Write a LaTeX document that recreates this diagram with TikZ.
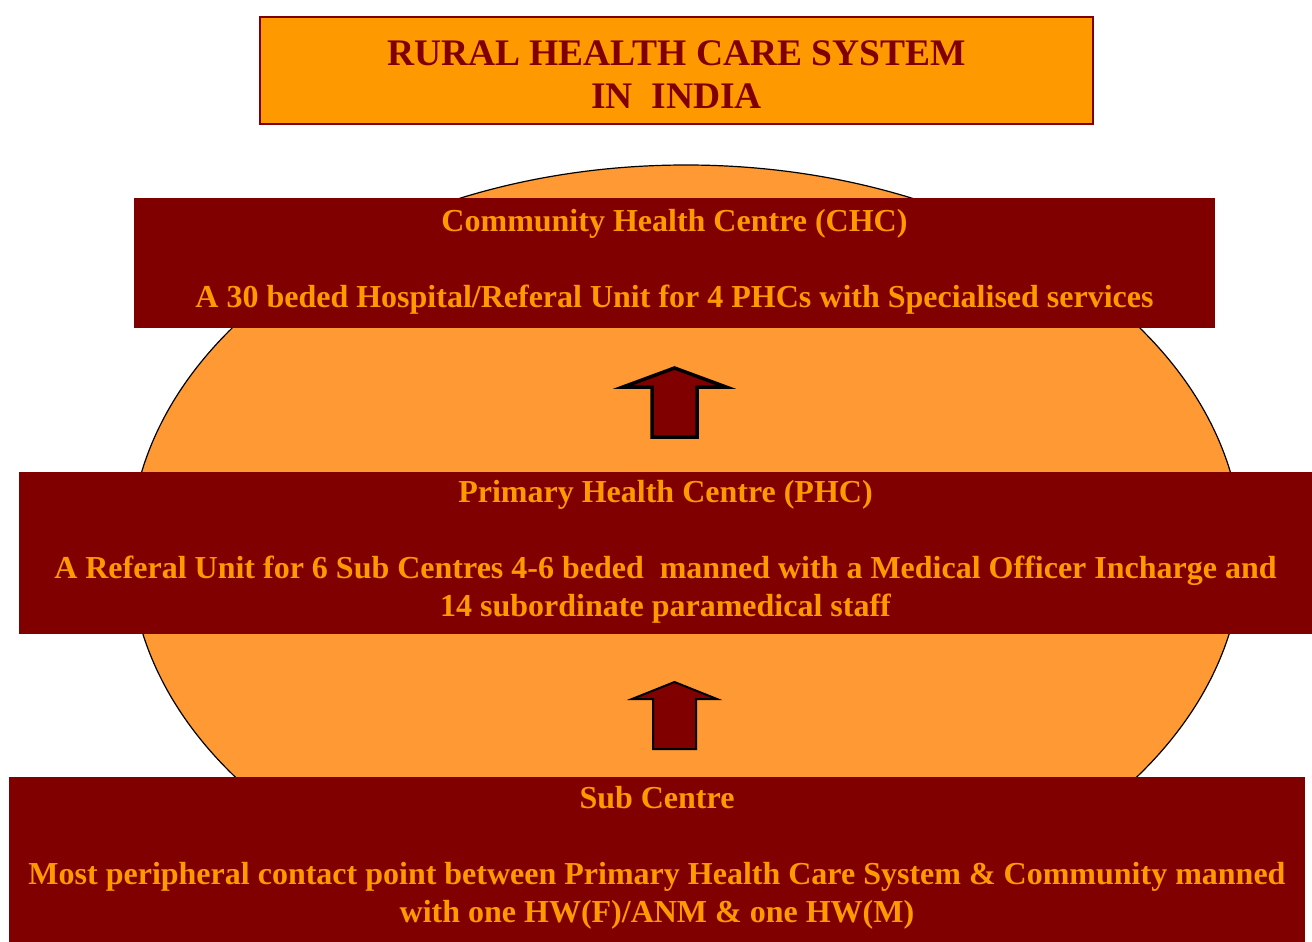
\documentclass[tikz,border=0pt]{standalone}
\usepackage{fontspec}
\setmainfont{Liberation Serif}
\usetikzlibrary{shapes.geometric, positioning}
\definecolor{maroon}{HTML}{800000}
\definecolor{gold}{HTML}{FF9900}
\definecolor{peach}{HTML}{FF9933}
\tikzstyle{titlebox} = [rectangle, draw=maroon, line width=1.5pt, fill=gold, text=maroon, font=\fontsize{37.5}{43}\selectfont\bfseries, align=center, minimum width=833pt, minimum height=107pt]
\tikzstyle{level} = [rectangle, fill=maroon, text=gold, font=\fontsize{32}{38}\selectfont\bfseries, align=center, inner sep=0pt]
\tikzstyle{oval} = [ellipse, draw=black, line width=1.2pt, fill=peach, inner sep=0pt]
\tikzstyle{uparrow} = [draw=black, fill=maroon, line join=miter]
\newcommand{\liftup}{\\[-28pt]\mbox{}}
\newcommand{\dropdown}{\mbox{}\\[-10pt]}

\begin{document}
\begin{tikzpicture}[x=1pt, y=-1pt]
				\useasboundingbox (0,0) rectangle (1312,942);
				\node(title) [titlebox] at (676.5,70.5) {\dropdown RURAL HEALTH CARE SYSTEM\\IN\ \ INDIA};
				%----------------------------------------------------%
				\node(ring) [oval, minimum width=1112pt, minimum height=772pt] at (686,551) {};
				%----------------------------------------------------%
				\node(chc) [level, minimum width=1081pt, minimum height=130pt] at (674.5,263) {Community Health Centre (CHC)\\[38pt]A 30 beded Hospital/Referal Unit for 4 PHCs with Specialised services\liftup};
				\node(phc) [level, minimum width=1293pt, minimum height=162pt] at (665.5,553) {Primary Health Centre (PHC)\\[38pt]A Referal Unit for 6 Sub Centres 4-6 beded\ \ manned with a Medical Officer Incharge and\\14 subordinate paramedical staff\liftup};
				\node(sub) [level, minimum width=1296pt, minimum height=165pt] at (657,859.5) {Sub Centre\\[38pt]Most peripheral contact point between Primary Health Care System \& Community manned\\with one HW(F)/ANM \& one HW(M)\liftup};
				%----------------------------------------------------%
				\draw[uparrow, line width=3.5pt] (652,437) -- (652,387) -- (623,387) -- (674.5,368) -- (726,387) -- (697,387) -- (697,437) -- cycle;
				\draw[uparrow, line width=2pt] (653,749) -- (653,699) -- (632,699) -- (674.5,682) -- (717,699) -- (696,699) -- (696,749) -- cycle;
\end{tikzpicture}
\end{document}
